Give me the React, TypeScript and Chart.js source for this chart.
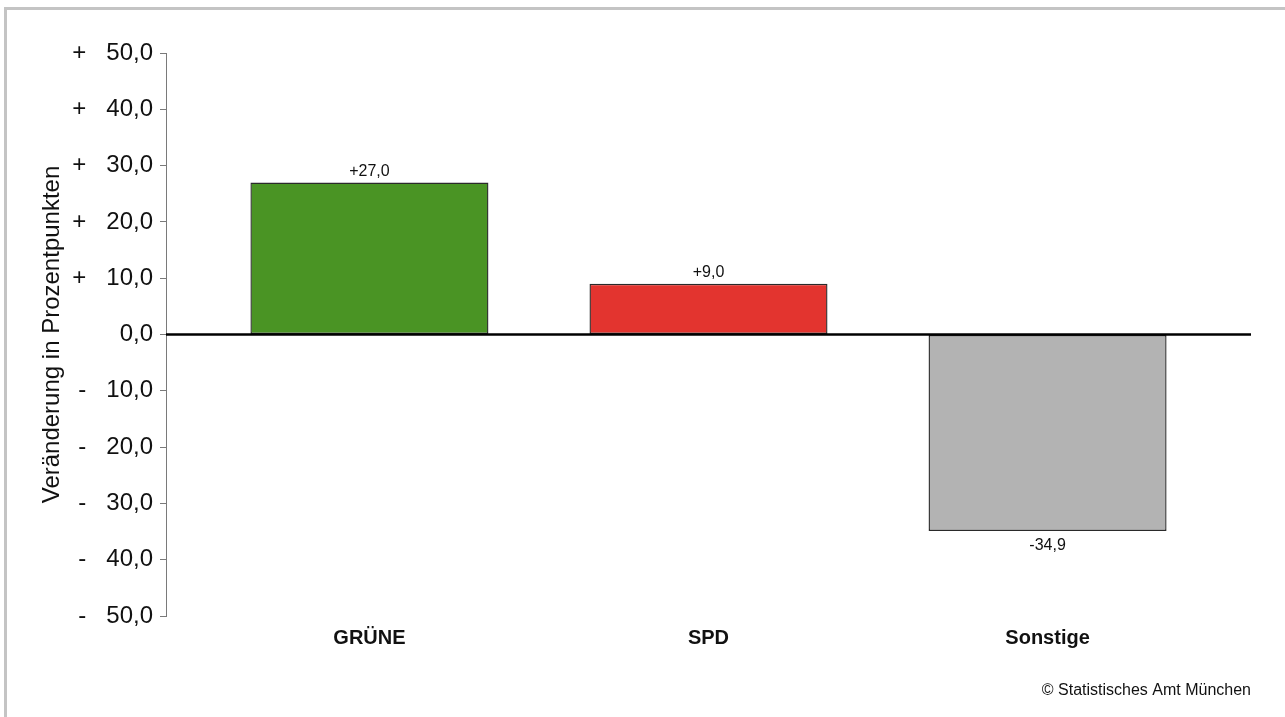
import React, { useEffect, useRef } from 'react';
import { Chart, registerables } from 'chart.js';

Chart.register(...registerables);

const categories = ['GRÜNE', 'SPD', 'Sonstige'];
const values = [27.0, 9.0, -34.9];
const barColors = ['#4a9424', '#e3342f', '#b3b3b3'];
const yMin = -50;
const yMax = 50;
const yStep = 10;
const yTitle = 'Veränderung in Prozentpunkten';
const footerText = '© Statistisches Amt München';

const FONT = "'Liberation Sans', Arial, Helvetica, sans-serif";

function fmt(v: number): string {
  return v.toFixed(1).replace('.', ',');
}
function tickLabel(v: number): string {
  if (Math.abs(v) < 1e-9) return '0,0';
  return v > 0 ? '+   ' + fmt(v) : '-   ' + fmt(-v);
}
function valueLabel(v: number): string {
  return (v > 0 ? '+' : v < 0 ? '-' : '') + fmt(Math.abs(v));
}

const zeroLinePlugin = {
  id: 'zeroLine',
  afterDatasetsDraw(chart: any) {
    const { ctx, chartArea, scales } = chart;
    const y0 = scales.y.getPixelForValue(0);
    ctx.save();
    ctx.strokeStyle = '#000000';
    ctx.lineWidth = 2.5;
    ctx.beginPath();
    ctx.moveTo(chartArea.left, y0);
    ctx.lineTo(chartArea.right, y0);
    ctx.stroke();
    ctx.restore();
  },
};

const valueLabelPlugin = {
  id: 'valueLabels',
  afterDatasetsDraw(chart: any) {
    const { ctx } = chart;
    const meta = chart.getDatasetMeta(0);
    ctx.save();
    ctx.font = `16px ${FONT}`;
    ctx.fillStyle = '#111111';
    ctx.textAlign = 'center';
    ctx.textBaseline = 'middle';
    meta.data.forEach((el: any, i: number) => {
      const v = values[i];
      const y = v >= 0 ? el.y - 11 : el.y + 15;
      ctx.fillText(valueLabel(v), el.x, y);
    });
    ctx.restore();
  },
};

const footerPlugin = {
  id: 'footer',
  afterDraw(chart: any) {
    const { ctx, chartArea } = chart;
    ctx.save();
    ctx.font = `16px ${FONT}`;
    ctx.fillStyle = '#111111';
    ctx.textAlign = 'right';
    ctx.textBaseline = 'middle';
    ctx.fillText(footerText, chartArea.right, 691);
    ctx.restore();
  },
};

export default function App() {
  const canvasRef = useRef<HTMLCanvasElement | null>(null);

  useEffect(() => {
    const canvas = canvasRef.current;
    if (!canvas) return;
    const chart = new Chart(canvas, {
      type: 'bar',
      data: {
        datasets: [
          {
            data: categories.map((_, i) => ({ x: i, y: values[i] })),
            backgroundColor: barColors,
            borderColor: '#2a2a2a',
            borderWidth: 1.4,
            borderSkipped: false,
            categoryPercentage: 1,
            barPercentage: 0.702,
          } as any,
        ],
      },
      options: {
        animation: false,
        responsive: false,
        devicePixelRatio: 1,
        layout: { padding: { top: 53, right: 34, bottom: 0, left: 0 } },
        plugins: {
          legend: { display: false },
          tooltip: { enabled: false },
        },
        scales: {
          x: {
            type: 'linear',
            offset: false,
            min: -0.6,
            max: categories.length - 1 + 0.6,
            grid: { display: false, drawTicks: false, offset: false },
            border: { display: false },
            ticks: {
              stepSize: 1,
              includeBounds: false,
              autoSkip: false,
              maxRotation: 0,
              padding: 10,
              color: '#111111',
              font: { family: FONT, size: 20, weight: 'bold' },
              callback: (v: any) => {
                const i = Number(v);
                return Number.isInteger(i) && categories[i] ? categories[i] : '';
              },
            },
            afterFit: (scale: any) => {
              scale.height = 101;
            },
          } as any,
          y: {
            min: yMin,
            max: yMax,
            grid: {
              drawOnChartArea: false,
              drawTicks: true,
              tickLength: 6,
              color: '#7a7a7a',
              lineWidth: 1,
            },
            border: { display: true, color: '#7a7a7a', width: 1 },
            ticks: {
              stepSize: yStep,
              padding: 7,
              color: '#111111',
              font: { family: FONT, size: 24 },
              callback: (v: any) => tickLabel(Number(v)),
            },
            title: {
              display: true,
              text: yTitle,
              color: '#111111',
              font: { family: FONT, size: 24 },
              padding: { top: 38, bottom: 0 },
            },
            afterFit: (scale: any) => {
              scale.width = 166;
            },
          } as any,
        },
      },
      plugins: [zeroLinePlugin, valueLabelPlugin, footerPlugin],
    });
    return () => chart.destroy();
  }, []);

  return (
    <div>
      <div
        style={{
          position: 'fixed',
          left: 4,
          top: 7,
          right: 0,
          bottom: 0,
          borderTop: '3px solid #c4c4c4',
          borderLeft: '3px solid #c4c4c4',
          boxSizing: 'border-box',
        }}
      />
      <div style={{ position: 'fixed', left: 0, top: 0, width: 1285, height: 717 }}>
        <canvas ref={canvasRef} width={1285} height={717} style={{ display: 'block' }} />
      </div>
    </div>
  );
}
